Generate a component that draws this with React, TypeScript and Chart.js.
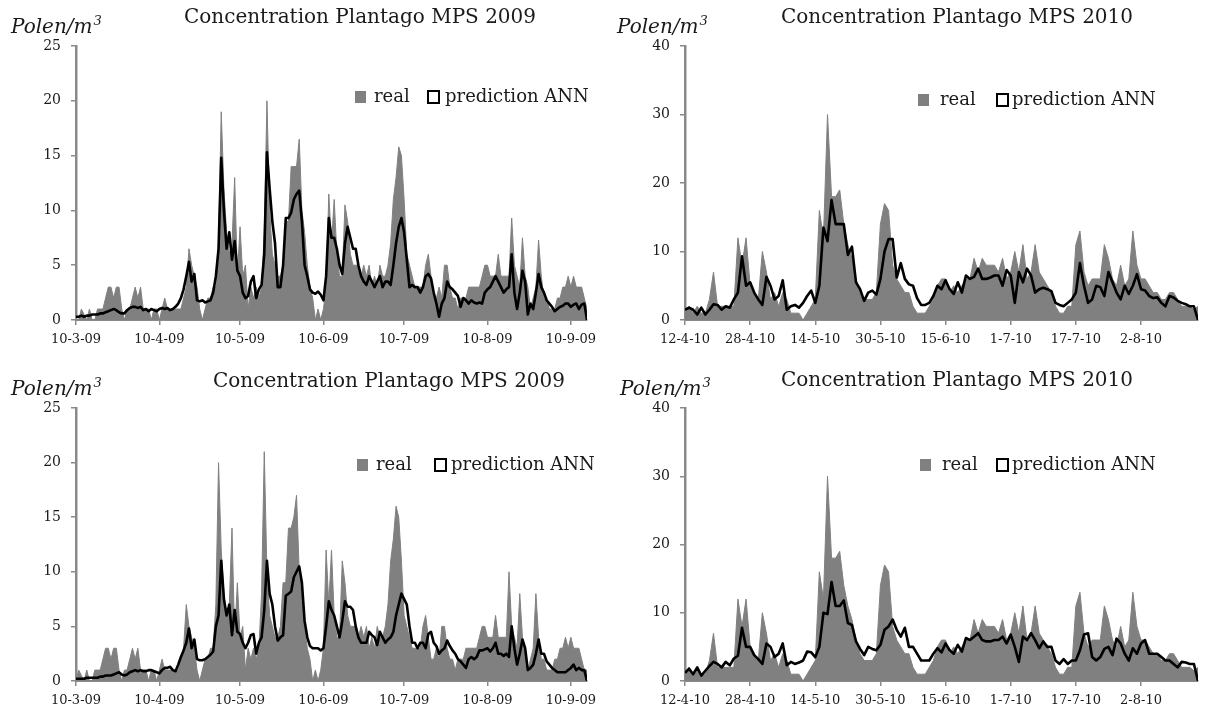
import React, { useEffect, useRef } from 'react';
import { Chart, registerables } from 'chart.js';
Chart.register(...registerables);

// ---------- data ----------
const ticks2009Days = [0, 31, 61, 92, 122, 153, 184];
const ticks2009Labels = ['10-3-09', '10-4-09', '10-5-09', '10-6-09', '10-7-09', '10-8-09', '10-9-09'];
const ticks2010Days = [0, 16, 32, 48, 64, 80, 96, 112];
const ticks2010Labels = ['12-4-10', '28-4-10', '14-5-10', '30-5-10', '15-6-10', '1-7-10', '17-7-10', '2-8-10'];

// real concentrations
const realTop2009 = [
  0, 0, 1, 0.5, 0, 1, 0, 0, 1, 1,
  1, 2, 3, 3, 2, 3, 3, 1, 0, 1,
  1, 2, 3, 2, 3, 1, 1, 1, 0, 1,
  1, 0, 1, 2, 1, 1, 1, 1, 1, 1,
  2, 3, 6.5, 5, 4, 3, 1, 0, 1, 2,
  2, 3, 3, 7, 19, 12, 8, 6, 7, 13,
  4, 8.5, 4, 5, 1, 3, 2, 3, 2, 3,
  8, 20, 10, 6, 5, 4, 4, 5, 9, 9,
  14, 14, 14, 16.5, 10, 8, 5, 3, 2, 0,
  1, 0, 1, 3, 11.5, 7, 11, 6, 4, 4,
  10.5, 9, 6, 5, 5, 5, 4, 5, 4, 5,
  3, 4, 3, 5, 4, 4, 5, 7, 11, 13,
  15.8, 15, 11, 6, 5, 4, 3, 3, 3, 3,
  5, 6, 4, 2, 2, 3, 2, 5, 5, 3,
  2, 2, 1, 2, 2, 2, 3, 3, 3, 3,
  3, 4, 5, 5, 4, 4, 4, 6, 4, 4,
  4, 4, 9.3, 5, 4, 3, 7.5, 4, 3, 1,
  2, 3, 7.3, 4, 2, 2, 1, 1, 1, 2,
  2, 3, 3, 4, 3, 4, 3, 3, 3, 2,
  1,
];

// real concentrations
const realBottom2009 = [
  0, 1, 0.5, 0, 1, 0, 0, 1, 1, 1,
  2, 3, 3, 2, 3, 3, 1, 0, 1, 1,
  2, 3, 2, 3, 1, 1, 1, 0, 1, 1,
  0, 1, 2, 1, 1, 1, 1, 1, 1, 2,
  3, 7, 5, 4, 3, 1, 0, 1, 2, 2,
  3, 3, 7, 20, 12, 8, 6, 7, 14, 4,
  9, 4, 5, 1, 3, 2, 3, 2, 3, 8,
  21, 10, 6, 5, 4, 4, 5, 9, 9, 14,
  14, 15, 17, 10, 8, 5, 3, 2, 0, 1,
  0, 1, 3, 12, 7, 12, 6, 4, 4, 11,
  9, 6, 5, 5, 5, 4, 5, 4, 5, 3,
  4, 3, 5, 4, 4, 5, 7, 11, 13, 16,
  15, 11, 6, 5, 4, 3, 3, 3, 3, 5,
  6, 4, 2, 2, 3, 2, 5, 5, 3, 2,
  2, 1, 2, 2, 2, 3, 3, 3, 3, 3,
  4, 5, 5, 4, 4, 4, 6, 4, 4, 4,
  4, 10, 5, 4, 3, 8, 4, 3, 1, 2,
  3, 8, 4, 2, 2, 1, 1, 1, 2, 2,
  3, 3, 4, 3, 4, 3, 3, 3, 2, 1,
  1,
];

const predTop2009 = [
  0.3, 0.3, 0.4, 0.3, 0.4, 0.4, 0.5, 0.5, 0.5, 0.6,
  0.6, 0.7, 0.8, 0.9, 1.0, 0.9, 0.7, 0.6, 0.6, 0.9,
  1.1, 1.2, 1.2, 1.1, 1.2, 0.9, 1.0, 0.8, 1.0, 0.9,
  0.8, 1.0, 1.1, 1.0, 1.1, 0.9, 1.0, 1.2, 1.5, 2.0,
  2.8, 4.0, 5.3, 3.5, 4.2, 1.8, 1.7, 1.8, 1.6, 1.7,
  1.8, 2.5, 4.0, 6.5, 14.8, 10.0, 6.5, 8.0, 5.5, 7.2,
  4.5, 4.0, 2.5, 2.0, 2.2, 3.5, 4.0, 2.0, 2.8, 3.2,
  6.0, 15.3, 12.0, 9.0, 7.0, 3.0, 3.0, 5.0, 9.3, 9.3,
  9.8, 11.0, 11.5, 11.8, 9.0, 5.0, 4.0, 2.8, 2.5, 2.4,
  2.6, 2.3, 1.8, 4.0, 9.3, 7.5, 7.5, 6.5, 5.0, 4.2,
  7.0, 8.5, 7.5, 6.5, 6.5, 5.0, 4.0, 3.5, 3.2, 4.0,
  3.5, 3.0, 3.5, 4.0, 3.0, 3.5, 3.5, 3.2, 5.0, 7.0,
  8.5, 9.3, 8.0, 5.5, 3.0, 3.2, 3.0, 3.0, 2.5, 3.0,
  4.0, 4.2, 3.8, 2.5, 1.5, 0.3, 1.5, 2.0, 3.5, 3.0,
  2.8, 2.5, 2.2, 1.2, 2.0, 1.8, 1.5, 1.8, 1.6, 1.5,
  1.6, 1.5, 2.5, 2.8, 3.0, 3.5, 4.0, 3.5, 3.0, 2.5,
  2.8, 3.0, 6.0, 2.5, 1.0, 2.5, 4.5, 3.5, 0.5, 1.5,
  1.0, 2.5, 4.2, 3.0, 2.5, 1.8, 1.5, 1.2, 0.8, 1.0,
  1.2, 1.3, 1.5, 1.5, 1.2, 1.4, 1.5, 1.0, 1.4, 1.5,
  0,
];

const predBottom2009 = [
  0.2, 0.2, 0.2, 0.2, 0.3, 0.3, 0.3, 0.3, 0.3, 0.4,
  0.4, 0.5, 0.5, 0.5, 0.6, 0.7, 0.8, 0.6, 0.5, 0.6,
  0.8, 0.9, 1.0, 0.9, 1.0, 0.9, 0.9, 1.0, 1.0, 0.9,
  0.8, 0.7, 1.0, 1.2, 1.2, 1.3, 1.0, 0.9, 1.5, 2.2,
  2.8, 3.5, 4.8, 3.0, 3.8, 2.0, 1.9, 1.9, 2.0, 2.2,
  2.4, 2.7, 5.0, 6.0, 11.0, 7.5, 6.0, 7.0, 4.2, 6.5,
  4.5, 4.3, 3.5, 3.0, 3.5, 4.2, 4.3, 2.5, 3.5, 4.0,
  6.5, 11.0, 8.0, 7.0, 5.0, 3.7, 4.0, 4.2, 7.8, 8.0,
  8.2, 9.5, 10.0, 10.5, 9.0, 5.5, 4.0, 3.2, 3.0, 3.0,
  3.0, 2.8, 3.0, 5.0, 7.3, 6.5, 6.0, 5.0, 4.0, 5.5,
  7.3, 6.8, 6.8, 6.5, 5.0, 4.0, 3.5, 3.5, 3.5, 4.5,
  4.2, 4.0, 3.3, 4.5, 4.0, 3.5, 3.8, 4.0, 4.5, 6.0,
  7.0, 8.0, 7.5, 7.0, 5.0, 3.5, 3.5, 3.0, 3.5, 3.5,
  3.0, 4.3, 4.5, 3.5, 3.2, 2.5, 2.8, 3.0, 3.7, 3.2,
  2.8, 2.5, 2.0, 1.8, 1.5, 1.2, 2.0, 2.2, 2.0, 2.2,
  2.8, 2.8, 2.9, 3.0, 2.7, 3.0, 3.5, 2.5, 2.5, 2.3,
  2.5, 2.2, 5.0, 3.0, 1.5, 2.5, 3.8, 3.0, 1.0, 1.2,
  1.5, 2.5, 3.8, 2.5, 2.5, 1.8, 1.5, 1.2, 1.0, 0.8,
  0.8, 0.8, 0.8, 1.0, 1.2, 1.5, 1.0, 1.2, 1.0, 1.0,
  0,
];

const real2010 = [
  1, 2, 1, 2, 1, 1, 3, 7, 2, 2,
  2, 2, 2, 12, 8, 12, 5, 4, 3, 10,
  7, 3, 4, 2, 4, 3, 1, 1, 1, 0,
  1, 2, 3, 16, 12, 30, 18, 18, 19, 14,
  11, 9, 6, 4, 3, 3, 3, 4, 14, 17,
  16, 8, 6, 5, 4, 4, 2, 1, 1, 1,
  2, 3, 5, 6, 6, 4, 5, 4, 5, 6,
  6, 9, 7, 9, 8, 8, 8, 7, 9, 6,
  7, 10, 7, 11, 6, 7, 11, 7, 6, 5,
  4, 2, 1, 1, 2, 2, 11, 13, 7, 5,
  6, 6, 6, 11, 9, 6, 5, 8, 5, 6,
  13, 8, 6, 6, 5, 4, 4, 3, 3, 4,
  4, 3, 2, 2, 2, 1.5, 2,
];

const predTop2010 = [
  1.5, 1.8, 1.5, 0.8, 1.8, 0.8, 1.5, 2.3, 2.2, 1.5,
  2.0, 1.8, 3.0, 4.0, 9.3, 5.0, 5.5, 4.0, 3.0, 2.2,
  6.3, 5.0, 3.0, 3.5, 5.8, 1.5, 2.0, 2.2, 1.8, 2.5,
  3.5, 4.3, 2.5, 5.0, 13.5, 11.5, 17.5, 14.0, 14.0, 14.0,
  9.5, 10.7, 5.5, 4.5, 2.8, 4.0, 4.3, 3.7, 6.0, 10.0,
  11.8, 11.8, 6.2, 8.3, 6.0, 5.2, 5.0, 3.2, 2.2, 2.2,
  2.5, 3.5, 5.0, 4.5, 5.8, 4.5, 3.8, 5.5, 4.0, 6.5,
  6.0, 6.3, 7.5, 6.0, 6.0, 6.2, 6.5, 6.5, 5.0, 7.3,
  6.5, 2.5, 7.0, 5.5, 7.5, 6.5, 4.0, 4.5, 4.7, 4.5,
  4.2, 2.5, 2.2, 2.0, 2.5, 3.0, 4.0, 8.3, 5.0, 2.5,
  3.0, 5.0, 4.8, 3.5, 7.0, 5.5, 4.0, 3.0, 5.0, 3.8,
  5.0, 6.7, 4.5, 4.3, 3.5, 3.2, 3.3, 2.5, 2.0, 3.5,
  3.3, 2.8, 2.5, 2.3, 2.0, 2.0, 0.0,
];

const predBottom2010 = [
  1.2, 1.8, 1.0, 2.0, 0.8, 1.5, 2.2, 2.8, 2.5, 2.0,
  2.8, 2.3, 3.3, 3.7, 7.8, 5.0, 5.0, 3.8, 3.2, 2.5,
  5.5, 5.0, 3.5, 4.0, 5.5, 2.3, 2.8, 2.5, 2.7, 3.0,
  4.3, 4.2, 3.5, 5.0, 10.0, 9.8, 14.5, 11.0, 11.0, 11.8,
  8.5, 8.2, 5.8, 4.7, 3.8, 5.0, 4.7, 4.5, 5.3, 7.5,
  8.0, 9.0, 7.5, 6.5, 7.8, 5.0, 5.0, 4.0, 3.0, 3.0,
  3.0, 4.0, 4.8, 4.2, 5.5, 4.5, 4.0, 5.3, 4.3, 6.3,
  6.0, 6.5, 7.0, 6.0, 5.8, 5.8, 6.0, 6.0, 6.5, 5.5,
  6.8, 5.0, 2.8, 6.5, 6.0, 7.0, 6.0, 4.8, 5.8, 5.0,
  5.0, 3.0, 2.5, 3.2, 2.5, 3.0, 3.0, 4.5, 6.8, 7.0,
  3.5, 3.0, 3.5, 4.7, 5.0, 3.8, 6.2, 5.5, 4.0, 3.0,
  4.8, 4.0, 5.5, 6.0, 4.0, 4.0, 4.0, 3.5, 3.0, 3.0,
  2.5, 2.0, 2.8, 2.7, 2.5, 2.5, 0.0,
];

// ---------- presentation ----------
const FONT = '"DejaVu Serif", serif';
const GRAY = '#808080';
const AXIS = '#8a8a8a';

type Panel = {
  left: number; top: number; width: number; height: number;
  area: { l: number; t: number; r: number; b: number };
  title: string; titleX: number; titleY: number;
  unitX: number; unitY: number;
  legX: number; legY: number; legText1: number; legBox2: number; legText2: number;
  real: number[]; pred: number[]; yMax: number; yStep: number;
  tickDays: number[]; tickLabels: string[];
};

const overlayPlugin = {
  id: 'overlay',
  afterDraw(chart: any, _args: any, o: any) {
    const ctx = chart.ctx as CanvasRenderingContext2D;
    ctx.save();
    ctx.fillStyle = '#1a1a1a';
    ctx.textBaseline = 'middle';
    // title
    ctx.font = `20px ${FONT}`;
    ctx.textAlign = 'center';
    ctx.fillText(o.title, o.titleX, o.titleY);
    // unit label
    ctx.textAlign = 'left';
    ctx.font = `italic 20px ${FONT}`;
    const base = 'Polen/m';
    ctx.fillText(base, o.unitX, o.unitY);
    const w = ctx.measureText(base).width;
    ctx.font = `italic 13px ${FONT}`;
    ctx.fillText('3', o.unitX + w + 1, o.unitY - 6);
    // legend
    ctx.fillStyle = GRAY;
    ctx.fillRect(o.legX, o.legY - 6, 11, 12);
    ctx.fillStyle = '#1a1a1a';
    ctx.font = `18px ${FONT}`;
    ctx.fillText('real', o.legX + o.legText1, o.legY);
    ctx.fillStyle = '#fff';
    ctx.fillRect(o.legX + o.legBox2, o.legY - 6, 11, 12);
    ctx.strokeStyle = '#000';
    ctx.lineWidth = 2;
    ctx.strokeRect(o.legX + o.legBox2, o.legY - 6, 11, 12);
    ctx.fillStyle = '#1a1a1a';
    ctx.fillText('prediction ANN', o.legX + o.legText2, o.legY);
    ctx.restore();
  },
};

function ChartPanel({ p }: { p: Panel }) {
  const ref = useRef<HTMLCanvasElement | null>(null);
  useEffect(() => {
    if (!ref.current) return;
    const n = p.real.length;
    const realPts = p.real.map((v, i) => ({ x: i, y: v }));
    const predPts = p.pred.map((v, i) => ({ x: i, y: v }));
    const chart = new Chart(ref.current, {
      type: 'line',
      data: {
        datasets: [
          {
            label: 'prediction ANN',
            data: predPts,
            borderColor: '#000',
            backgroundColor: '#fff',
            borderWidth: 2.6,
            pointRadius: 0,
            tension: 0,
            fill: false,
            borderJoinStyle: 'round',
          },
          {
            label: 'real',
            data: realPts,
            borderColor: GRAY,
            backgroundColor: GRAY,
            borderWidth: 1,
            pointRadius: 0,
            tension: 0,
            fill: 'origin',
          },
        ],
      },
      options: {
        animation: false,
        responsive: false,
        maintainAspectRatio: false,
        layout: { padding: { left: 0, top: p.area.t, right: p.width - p.area.r, bottom: 0 } },
        plugins: {
          legend: { display: false },
          title: { display: false },
          tooltip: { enabled: false },
          overlay: {
            title: p.title, titleX: p.titleX, titleY: p.titleY,
            unitX: p.unitX, unitY: p.unitY,
            legX: p.legX, legY: p.legY, legText1: p.legText1, legBox2: p.legBox2, legText2: p.legText2,
          },
        } as any,
        scales: {
          x: {
            type: 'linear',
            min: 0,
            max: n - 1,
            afterBuildTicks: (s: any) => {
              s.ticks = p.tickDays.map((v) => ({ value: v }));
            },
            afterFit: (s: any) => {
              s.height = p.height - p.area.b;
              s.paddingLeft = 0;
              s.paddingRight = 0;
            },
            ticks: {
              autoSkip: false,
              maxRotation: 0,
              padding: 7,
              color: '#1a1a1a',
              font: { family: FONT, size: 13 },
              callback: (_v: any, i: number) => p.tickLabels[i],
            },
            grid: { drawOnChartArea: false, drawTicks: true, tickLength: 5, color: AXIS, lineWidth: 1.5 },
            border: { display: true, color: AXIS, width: 2 },
          },
          y: {
            min: 0,
            max: p.yMax,
            afterFit: (s: any) => {
              s.width = p.area.l;
              s.paddingTop = 0;
              s.paddingBottom = 0;
            },
            ticks: {
              stepSize: p.yStep,
              padding: 10,
              color: '#1a1a1a',
              font: { family: FONT, size: 14 },
            },
            grid: { drawOnChartArea: false, drawTicks: true, tickLength: 5, color: AXIS, lineWidth: 1.5 },
            border: { display: true, color: AXIS, width: 2.5 },
          },
        },
      },
      plugins: [overlayPlugin],
    });
    return () => chart.destroy();
  }, [p]);
  return (
    <canvas
      ref={ref}
      width={p.width}
      height={p.height}
      style={{ position: 'absolute', left: p.left, top: p.top, width: p.width, height: p.height }}
    />
  );
}

const panels: Panel[] = [
  {
    left: 0, top: 0, width: 600, height: 355,
    area: { l: 76, t: 46, r: 587, b: 320 },
    title: 'Concentration Plantago MPS 2009', titleX: 360, titleY: 18,
    unitX: 11, unitY: 28,
    legX: 355, legY: 97, legText1: 19, legBox2: 73, legText2: 90,
    real: realTop2009, pred: predTop2009, yMax: 25, yStep: 5,
    tickDays: ticks2009Days, tickLabels: ticks2009Labels,
  },
  {
    left: 600, top: 0, width: 608, height: 355,
    area: { l: 85, t: 46, r: 598, b: 320 },
    title: 'Concentration Plantago MPS 2010', titleX: 357, titleY: 18,
    unitX: 17, unitY: 28,
    legX: 318, legY: 100, legText1: 22, legBox2: 79, legText2: 94,
    real: real2010, pred: predTop2010, yMax: 40, yStep: 10,
    tickDays: ticks2010Days, tickLabels: ticks2010Labels,
  },
  {
    left: 0, top: 355, width: 600, height: 356,
    area: { l: 76, t: 53, r: 587, b: 326 },
    title: 'Concentration Plantago MPS 2009', titleX: 389, titleY: 27,
    unitX: 11, unitY: 35,
    legX: 357, legY: 110, legText1: 19, legBox2: 78, legText2: 94,
    real: realBottom2009, pred: predBottom2009, yMax: 25, yStep: 5,
    tickDays: ticks2009Days, tickLabels: ticks2009Labels,
  },
  {
    left: 600, top: 355, width: 608, height: 356,
    area: { l: 85, t: 53, r: 598, b: 326 },
    title: 'Concentration Plantago MPS 2010', titleX: 357, titleY: 26,
    unitX: 20, unitY: 35,
    legX: 320, legY: 110, legText1: 22, legBox2: 77, legText2: 92,
    real: real2010, pred: predBottom2010, yMax: 40, yStep: 10,
    tickDays: ticks2010Days, tickLabels: ticks2010Labels,
  },
];

export default function App() {
  return (
    <div style={{ position: 'fixed', left: 0, top: 0, width: 1208, height: 711, background: '#fff' }}>
      {panels.map((p, i) => (
        <ChartPanel key={i} p={p} />
      ))}
    </div>
  );
}
